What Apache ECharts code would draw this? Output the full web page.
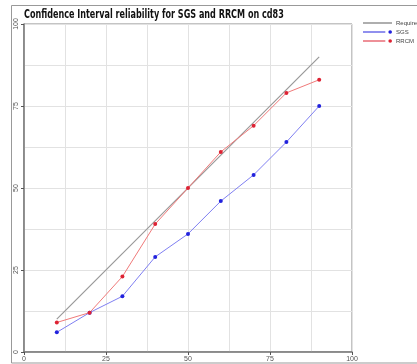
<!DOCTYPE html>
<html>
<head>
<meta charset="utf-8">
<script src="https://cdn.jsdelivr.net/npm/echarts@6/dist/echarts.min.js"></script>
<style>
html,body{margin:0;padding:0;background:#fff;}
#chart{width:417px;height:364px;}
</style>
</head>
<body>
<div id="chart"></div>
<script>
const titleText = "Confidence Interval reliability for SGS and RRCM on cd83";
const seriesNames = ["Required", "SGS", "RRCM"];
const requiredX = [10, 90];
const requiredY = [10, 90];
const xValues = [10, 20, 30, 40, 50, 60, 70, 80, 90];
const sgsValues = [6, 12, 17, 29, 36, 46, 54, 64, 75];
const rrcmValues = [9, 12, 23, 39, 50, 61, 69, 79, 83];
const axisTicks = [0, 25, 50, 75, 100];

const zip = (xs, ys) => xs.map((x, i) => [x, ys[i]]);

const chart = echarts.init(document.getElementById('chart'), null, {renderer: 'canvas'});

const axisCommon = {
  type: 'value',
  min: axisTicks[0],
  max: axisTicks[axisTicks.length - 1],
  interval: 25,
  axisLine: {show: true, onZero: false, lineStyle: {color: '#777', width: 1.5}},
  axisTick: {show: true, length: 3, lineStyle: {color: '#555'}},
  splitLine: {show: true, lineStyle: {color: '#e2e2e2', width: 1}},
  minorTick: {show: false, splitNumber: 2},
  minorSplitLine: {show: true, lineStyle: {color: '#e2e2e2', width: 1}},
  axisLabel: {color: '#555', fontSize: 7, fontFamily: 'Liberation Sans'}
};

const lineIcon = 'path://M0,3h22v1.2h-22z';
const lineDotIcon = 'path://M0,3h22v1.2h-22z M25,3.6a1.8,1.8 0 1,0 3.6,0a1.8,1.8 0 1,0 -3.6,0z';

chart.setOption({
  animation: false,
  backgroundColor: '#fff',
  legend: {
    data: [
      {name: seriesNames[0], icon: lineIcon},
      {name: seriesNames[1], icon: lineDotIcon},
      {name: seriesNames[2], icon: lineDotIcon}
    ],
    orient: 'vertical',
    left: 363,
    top: 20,
    itemGap: 3,
    itemWidth: 29,
    itemHeight: 7,
    textStyle: {fontSize: 6, color: '#444', fontFamily: 'Liberation Sans', padding: [0, 0, 0, -1]},
    padding: 0
  },
  graphic: [
    {
      type: 'rect',
      shape: {x: 11.5, y: 5.5, width: 420, height: 357.5},
      style: {fill: 'none', stroke: '#999', lineWidth: 1},
      silent: true
    },
    {
      type: 'text',
      x: 24, y: 9,
      scaleX: 0.78,
      style: {
        text: titleText,
        fill: '#111',
        font: 'bold 11.5px "DejaVu Sans Condensed", "Liberation Sans", sans-serif',
        textVerticalAlign: 'top'
      },
      silent: true
    }
  ],
  grid: {left: 24, right: 65, top: 24, bottom: 12, show: true, borderColor: '#888', borderWidth: 1},
  xAxis: Object.assign({}, axisCommon, {
    axisLabel: Object.assign({}, axisCommon.axisLabel, {margin: 4})
  }),
  yAxis: Object.assign({}, axisCommon, {
    axisLabel: Object.assign({}, axisCommon.axisLabel, {rotate: 90, margin: 4})
  }),
  series: [
    {
      name: seriesNames[0], type: 'line', data: zip(requiredX, requiredY),
      symbol: 'none', lineStyle: {color: '#999', width: 1.2}, itemStyle: {color: '#999'}
    },
    {
      name: seriesNames[1], type: 'line', data: zip(xValues, sgsValues),
      symbol: 'circle', symbolSize: 4, lineStyle: {color: '#7f7ff2', width: 1},
      itemStyle: {color: '#2222dd'}
    },
    {
      name: seriesNames[2], type: 'line', data: zip(xValues, rrcmValues),
      symbol: 'circle', symbolSize: 4, lineStyle: {color: '#f07a7a', width: 1},
      itemStyle: {color: '#dd2233'}
    }
  ]
});
</script>
</body>
</html>
